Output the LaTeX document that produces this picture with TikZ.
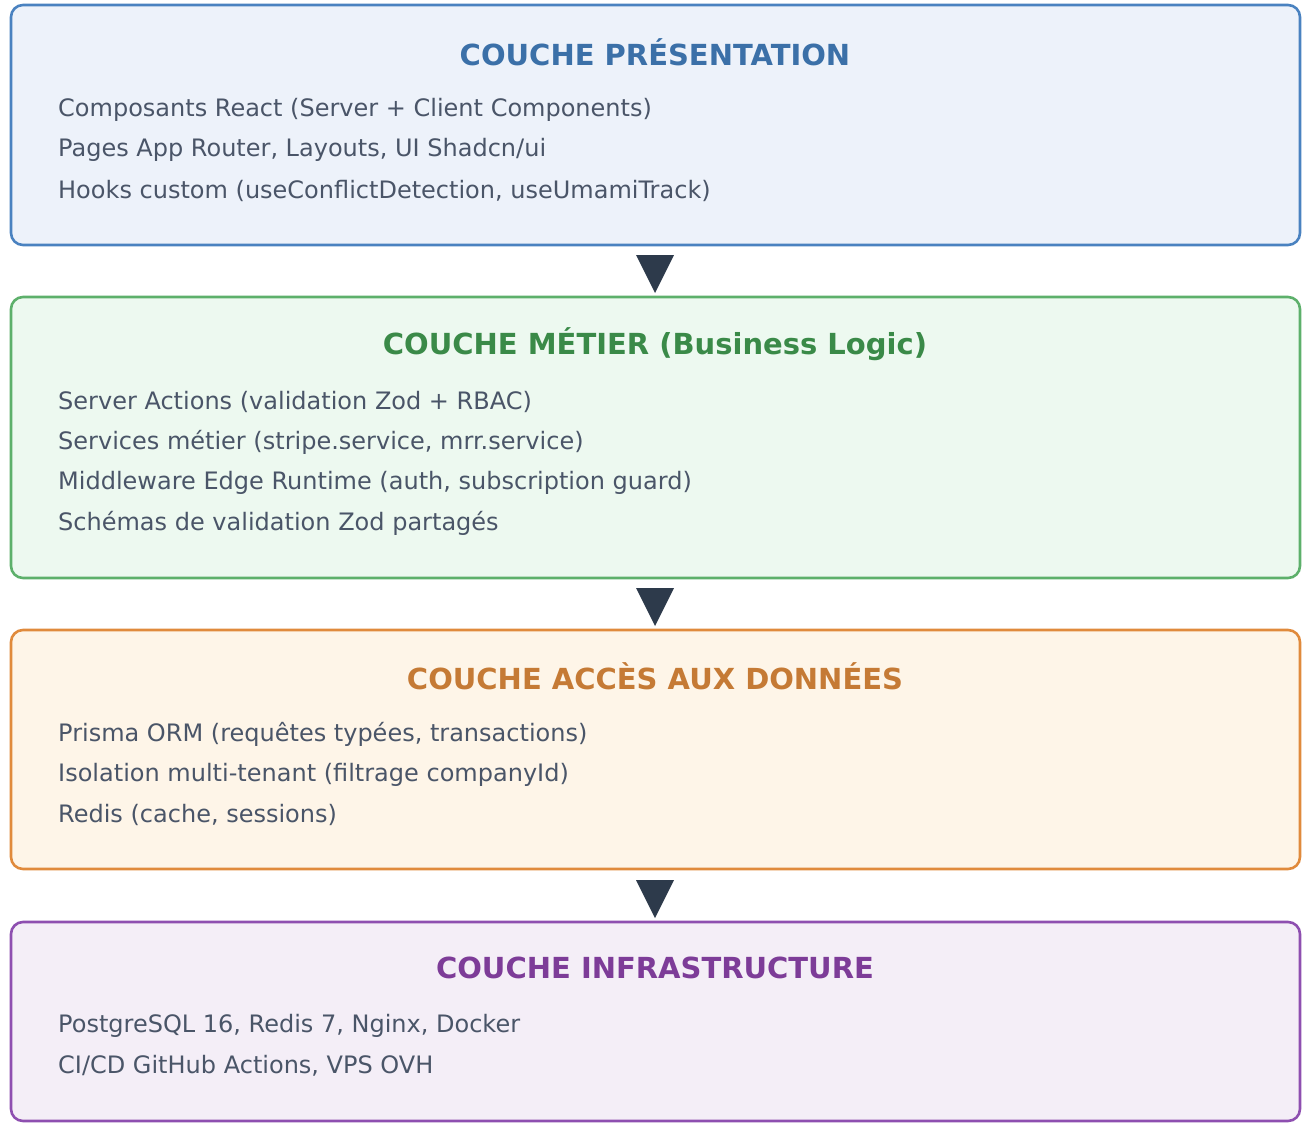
\documentclass[tikz,border=0pt]{standalone}
\usepackage{fontspec}
\setmainfont{DejaVu Sans}
\begin{document}
\begin{tikzpicture}[x=1pt,y=-1pt,
  layer/.style={rounded corners=12pt, line width=2.6pt},
  ttl/.style={font=\fontsize{29}{34}\selectfont\bfseries, anchor=center},
  itm/.style={font=\fontsize{24}{28}\selectfont, text=bodyc, anchor=west, inner sep=0pt},
  tri/.style={fill=arrc, draw=none}
]
\definecolor{bodyc}{HTML}{4A5568}
\definecolor{arrc}{HTML}{2D3A4B}
\definecolor{bB}{HTML}{4A82C0}\definecolor{fB}{HTML}{EDF2FA}\definecolor{tB}{HTML}{3B70A8}
\definecolor{bG}{HTML}{5DB06B}\definecolor{fG}{HTML}{EDF9F0}\definecolor{tG}{HTML}{3A8A48}
\definecolor{bO}{HTML}{E08A3C}\definecolor{fO}{HTML}{FEF5E8}\definecolor{tO}{HTML}{C57A35}
\definecolor{bP}{HTML}{8E4FB0}\definecolor{fP}{HTML}{F4EEF7}\definecolor{tP}{HTML}{7D3C98}
\useasboundingbox (0,0) rectangle (1310,1136);

% boxes
\draw[layer, draw=bB, fill=fB] (11,5) rectangle (1300,245);
\draw[layer, draw=bG, fill=fG] (11,297) rectangle (1300,578);
\draw[layer, draw=bO, fill=fO] (11,630) rectangle (1300,869);
\draw[layer, draw=bP, fill=fP] (11,922) rectangle (1300,1121);

% titles
\node[ttl, text=tB] (t1) at (655,52) {COUCHE PRÉSENTATION};
\node[ttl, text=tG] (t2) at (655,344) {COUCHE MÉTIER (Business Logic)};
\node[ttl, text=tO] (t3) at (655,676) {COUCHE ACCÈS AUX DONNÉES};
\node[ttl, text=tP] (t4) at (655,968) {COUCHE INFRASTRUCTURE};

% items
\node[itm] (a1) at (58,110) {Composants React (Server + Client Components)};
\node[itm] (a2) at (58,150) {Pages App Router, Layouts, UI Shadcn/ui};
\node[itm] (a3) at (58,191) {Hooks custom (useConflictDetection, useUmamiTrack)};

\node[itm] (b1) at (58,402) {Server Actions (validation Zod + RBAC)};
\node[itm] (b2) at (58,442) {Services métier (stripe.service, mrr.service)};
\node[itm] (b3) at (58,483) {Middleware Edge Runtime (auth, subscription guard)};
\node[itm] (b4) at (58,523) {Schémas de validation Zod partagés};

\node[itm] (c1) at (58,734) {Prisma ORM (requêtes typées, transactions)};
\node[itm] (c2) at (58,775) {Isolation multi-tenant (filtrage companyId)};
\node[itm] (c3) at (58,815) {Redis (cache, sessions)};

\node[itm] (d1) at (58,1026) {PostgreSQL 16, Redis 7, Nginx, Docker};
\node[itm] (d2) at (58,1066) {CI/CD GitHub Actions, VPS OVH};

% arrows
\fill[tri] (636,255) -- (674,255) -- (655,293) -- cycle;
\fill[tri] (636,588) -- (674,588) -- (655,626) -- cycle;
\fill[tri] (636,880) -- (674,880) -- (655,918) -- cycle;
\end{tikzpicture}
\end{document}
